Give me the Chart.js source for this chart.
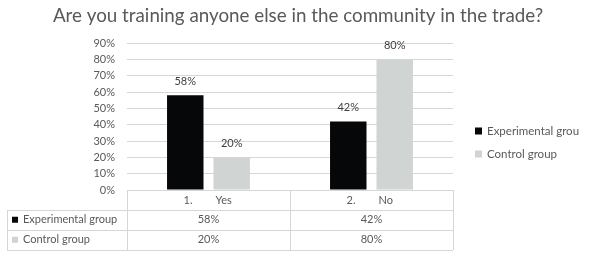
<!DOCTYPE html>
<html><head><meta charset="utf-8">
<script src="https://cdn.jsdelivr.net/npm/chart.js@4/dist/chart.umd.min.js"></script>
<style>html,body{margin:0;padding:0;background:#fff;}#wrap{width:597px;height:255px;position:relative;}</style>
</head><body>
<div id="wrap"><canvas id="c" width="597" height="255"></canvas></div>
<script>
const chartTitle = 'Are you training anyone else in the community in the trade?';
const categories = ['Yes', 'No'];
const categoryNumbers = ['1.', '2.'];
const seriesNames = ['Experimental group', 'Control group'];
const experimental = [58, 42];
const control = [20, 80];
const yMax = 90;
const yStep = 10;

const FONT = 'Lato, "Liberation Sans", sans-serif';
const TXT = '#595959';
const COLORS = ['#060708', '#d0d4d3'];
const LINE = '#d6d6d6';

const tablePlugin = {
  id: 'extras',
  afterDraw(chart) {
    const ctx = chart.ctx;
    const ca = chart.chartArea;
    const xs = chart.scales.x;
    ctx.save();
    // title
    ctx.fillStyle = TXT;
    ctx.font = '18.8px ' + FONT;
    ctx.textAlign = 'center';
    ctx.textBaseline = 'middle';
    ctx.fillText(chartTitle, 298, 16);

    // data labels
    ctx.font = '11px ' + FONT;
    ctx.fillStyle = '#404040';
    ctx.textBaseline = 'alphabetic';
    chart.data.datasets.forEach((ds, di) => {
      chart.getDatasetMeta(di).data.forEach((bar, i) => {
        ctx.fillText(ds.data[i] + '%', bar.x, bar.y - 10);
      });
    });

    // table
    const L = 7, A = ca.left, B = ca.right;
    const half = (xs.getPixelForValue(1) - xs.getPixelForValue(0)) / 2;
    const y0 = ca.bottom, y1 = y0 + 20, y2 = y1 + 19.5, y3 = y2 + 20.5;
    ctx.strokeStyle = LINE;
    ctx.lineWidth = 1;
    ctx.beginPath();
    ctx.moveTo(A, y0 + 0.5); ctx.lineTo(B, y0 + 0.5);
    [y1, y2, y3].forEach(y => { ctx.moveTo(L, Math.round(y) + 0.5); ctx.lineTo(B, Math.round(y) + 0.5); });
    ctx.moveTo(L + 0.5, y1); ctx.lineTo(L + 0.5, y3);
    const edges = [A];
    categories.forEach((c, i) => edges.push(xs.getPixelForValue(i) + half));
    edges.forEach(x => { ctx.moveTo(Math.round(x) + 0.5, y0); ctx.lineTo(Math.round(x) + 0.5, y3); });
    ctx.stroke();

    ctx.font = '11px ' + FONT;
    ctx.fillStyle = TXT;
    ctx.textBaseline = 'middle';
    categories.forEach((c, i) => {
      const cx = xs.getPixelForValue(i);
      ctx.textAlign = 'right';
      ctx.fillText(categoryNumbers[i], cx - 16, (y0 + y1) / 2);
      ctx.textAlign = 'left';
      ctx.fillText(c, cx + 7, (y0 + y1) / 2);
    });
    const rows = [[y1, y2], [y2, y3]];
    chart.data.datasets.forEach((ds, di) => {
      const ym = (rows[di][0] + rows[di][1]) / 2;
      ctx.fillStyle = ds.backgroundColor;
      ctx.fillRect(12, ym - 3, 6, 6);
      ctx.fillStyle = TXT;
      ctx.textAlign = 'left';
      ctx.fillText(ds.label, 23, ym);
      ctx.textAlign = 'center';
      ds.data.forEach((v, i) => ctx.fillText(v + '%', xs.getPixelForValue(i), ym));
    });

    // legend (clipped at right like the original)
    ctx.save();
    ctx.beginPath();
    ctx.rect(460, 100, 119, 80);
    ctx.clip();
    const ly = [131, 154];
    chart.data.datasets.forEach((ds, di) => {
      ctx.fillStyle = ds.backgroundColor;
      ctx.fillRect(475, ly[di] - 3.5, 7, 7);
      ctx.fillStyle = TXT;
      ctx.textAlign = 'left';
      ctx.font = '11.5px ' + FONT;
      ctx.fillText(ds.label, 487, ly[di]);
    });
    ctx.restore();
    ctx.restore();
  }
};

new Chart(document.getElementById('c'), {
  type: 'bar',
  data: {
    labels: categories,
    datasets: [
      { label: seriesNames[0], data: experimental, backgroundColor: COLORS[0] },
      { label: seriesNames[1], data: control, backgroundColor: COLORS[1] }
    ]
  },
  options: {
    responsive: false,
    animation: false,
    devicePixelRatio: 1,
    layout: { padding: { top: 43, bottom: 65, left: 0, right: 144 } },
    datasets: { bar: { categoryPercentage: 0.57, barPercentage: 0.785 } },
    plugins: { legend: { display: false }, tooltip: { enabled: false } },
    scales: {
      x: { display: false },
      y: {
        min: 0, max: yMax,
        border: { display: false },
        grid: { color: LINE, drawTicks: false },
        ticks: { stepSize: yStep, padding: 12, color: TXT, font: { family: FONT, size: 11 }, callback: v => v + '%' },
        afterFit(s) { s.width = 127; }
      }
    }
  },
  plugins: [tablePlugin]
});
</script>
</body></html>
